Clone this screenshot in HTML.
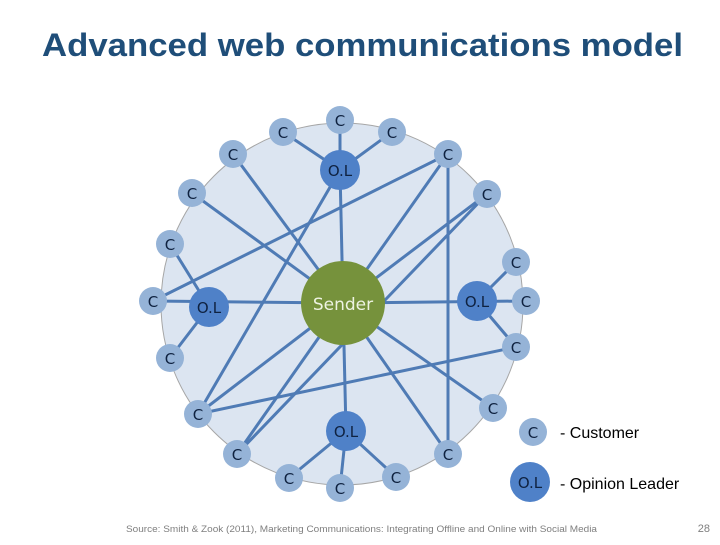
<!DOCTYPE html>
<html><head><meta charset="utf-8"><style>
body{margin:0;width:720px;height:540px;background:#fff;overflow:hidden;font-family:"Liberation Sans",sans-serif}
</style></head><body>
<svg width="720" height="540" viewBox="0 0 720 540" xmlns="http://www.w3.org/2000/svg">
<text x="42" y="56" textLength="641" lengthAdjust="spacingAndGlyphs" font-family="Liberation Sans, sans-serif" font-size="32" font-weight="bold" fill="#1f4e79">Advanced web communications model</text>
<circle cx="342" cy="304" r="181" fill="#dce5f1" stroke="#a6a6a6" stroke-width="1"/>
<g stroke="#4f7bb5" stroke-width="3" fill="none">
<line x1="340" y1="170" x2="340" y2="120"/><line x1="340" y1="170" x2="283" y2="132"/><line x1="340" y1="170" x2="392" y2="132"/>
<line x1="340" y1="170" x2="343" y2="303"/><line x1="340" y1="170" x2="198" y2="414"/>
<line x1="233" y1="154" x2="343" y2="303"/><line x1="192" y1="193" x2="343" y2="303"/>
<line x1="170" y1="244" x2="209" y2="307"/><line x1="153" y1="301" x2="343" y2="303"/>
<line x1="153" y1="301" x2="448" y2="154"/><line x1="170" y1="358" x2="209" y2="307"/>
<line x1="198" y1="414" x2="343" y2="303"/><line x1="198" y1="414" x2="516" y2="347"/>
<line x1="237" y1="454" x2="343" y2="303"/><line x1="237" y1="454" x2="487" y2="194"/>
<line x1="448" y1="154" x2="343" y2="303"/><line x1="448" y1="154" x2="448" y2="454"/>
<line x1="487" y1="194" x2="343" y2="303"/>
<line x1="343" y1="303" x2="448" y2="454"/><line x1="343" y1="303" x2="493" y2="408"/>
<line x1="343" y1="303" x2="346" y2="431"/>
<line x1="346" y1="431" x2="289" y2="478"/><line x1="346" y1="431" x2="340" y2="488"/><line x1="346" y1="431" x2="396" y2="477"/>
<line x1="343" y1="303" x2="526" y2="301"/><line x1="477" y1="301" x2="516" y2="262"/><line x1="477" y1="301" x2="516" y2="347"/>
</g>
<circle cx="343" cy="303" r="42" fill="#76923c"/>
<text x="343" y="310" text-anchor="middle" font-size="17" fill="#eef3e2" font-family="DejaVu Sans, sans-serif">Sender</text>
<g fill="#4f81c8">
<circle cx="340" cy="170" r="20"/><circle cx="209" cy="307" r="20"/><circle cx="477" cy="301" r="20"/><circle cx="346" cy="431" r="20"/><circle cx="530" cy="482" r="20"/>
</g>
<g font-family="DejaVu Sans, sans-serif" font-size="15" fill="#0f2240" text-anchor="middle">
<text x="340" y="176">O.L</text><text x="209" y="313">O.L</text><text x="477" y="307">O.L</text><text x="346" y="437">O.L</text><text x="530" y="488">O.L</text>
</g>
<g fill="#95b3d7">
<circle cx="340" cy="120" r="14"/><circle cx="283" cy="132" r="14"/><circle cx="392" cy="132" r="14"/>
<circle cx="233" cy="154" r="14"/><circle cx="448" cy="154" r="14"/><circle cx="192" cy="193" r="14"/>
<circle cx="487" cy="194" r="14"/><circle cx="170" cy="244" r="14"/><circle cx="516" cy="262" r="14"/>
<circle cx="153" cy="301" r="14"/><circle cx="526" cy="301" r="14"/><circle cx="170" cy="358" r="14"/>
<circle cx="516" cy="347" r="14"/><circle cx="198" cy="414" r="14"/><circle cx="493" cy="408" r="14"/>
<circle cx="237" cy="454" r="14"/><circle cx="448" cy="454" r="14"/><circle cx="289" cy="478" r="14"/>
<circle cx="340" cy="488" r="14"/><circle cx="396" cy="477" r="14"/><circle cx="533" cy="432" r="14"/>
</g>
<g font-family="DejaVu Sans, sans-serif" font-size="15" fill="#0f2240" text-anchor="middle">
<text x="340" y="126">C</text><text x="283" y="138">C</text><text x="392" y="138">C</text>
<text x="233" y="160">C</text><text x="448" y="160">C</text><text x="192" y="199">C</text>
<text x="487" y="200">C</text><text x="170" y="250">C</text><text x="516" y="268">C</text>
<text x="153" y="307">C</text><text x="526" y="307">C</text><text x="170" y="364">C</text>
<text x="516" y="353">C</text><text x="198" y="420">C</text><text x="493" y="414">C</text>
<text x="237" y="460">C</text><text x="448" y="460">C</text><text x="289" y="484">C</text>
<text x="340" y="494">C</text><text x="396" y="483">C</text><text x="533" y="438">C</text>
</g>
<text x="560" y="438" font-size="16" fill="#000">- Customer</text>
<text x="560" y="489" font-size="16" fill="#000">- Opinion Leader</text>
<text x="126" y="532" textLength="471" lengthAdjust="spacingAndGlyphs" font-size="9" fill="#7f7f7f">Source: Smith &amp; Zook (2011), Marketing Communications: Integrating Offline and Online with Social Media</text>
<text x="710" y="532" font-size="11" fill="#7f7f7f" text-anchor="end">28</text>
</svg>
</body></html>
